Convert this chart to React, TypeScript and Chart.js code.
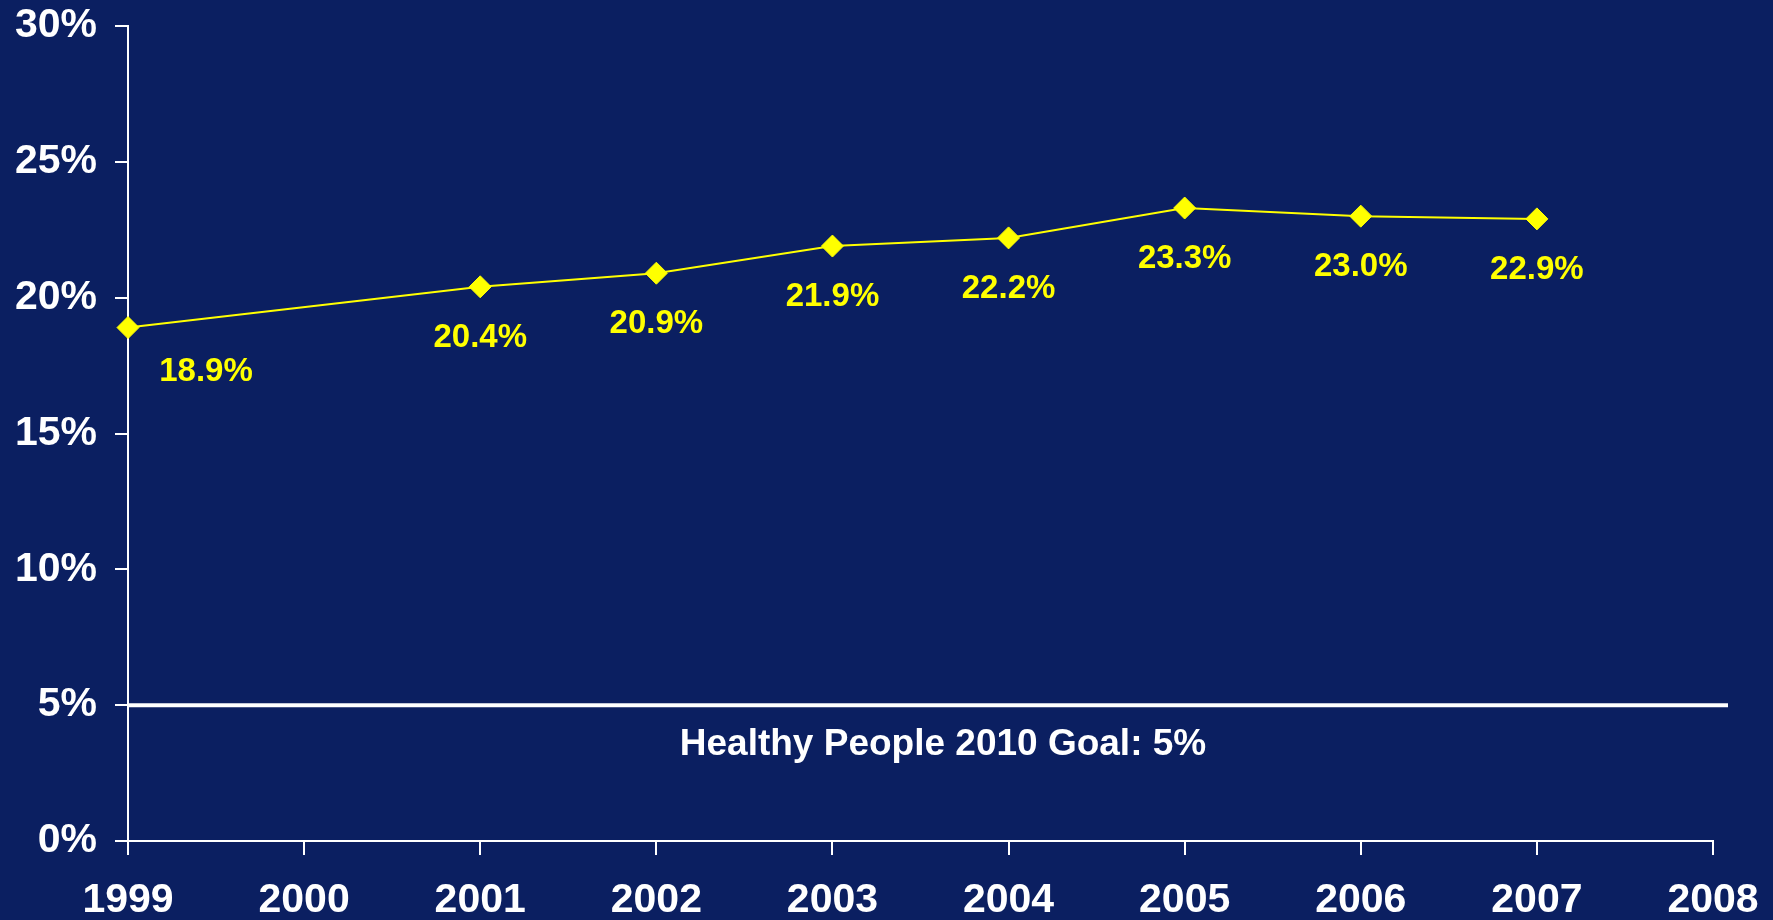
import React, { useEffect, useRef } from "react";
import { Chart, registerables } from "chart.js";

Chart.register(...registerables);

const years = [1999, 2000, 2001, 2002, 2003, 2004, 2005, 2006, 2007, 2008];
const observedYears = [1999, 2001, 2002, 2003, 2004, 2005, 2006, 2007];
const percentValues = [18.9, 20.4, 20.9, 21.9, 22.2, 23.3, 23.0, 22.9];
const yTicks = [0, 5, 10, 15, 20, 25, 30];
const goalValue = 5;
const goalLabel = "Healthy People 2010 Goal: 5%";

const BG = "#0B1F61";
const YELLOW = "#FFFF00";
const FONT = '"Liberation Sans", Arial, Helvetica, sans-serif';

const overlayPlugin = {
  id: "overlay",
  afterDatasetsDraw(chart: any) {
    const { ctx, chartArea, scales } = chart;
    const ys = scales.y;
    // goal line
    const gy = ys.getPixelForValue(goalValue);
    const lineEnd = chartArea.right + 15;
    ctx.save();
    ctx.strokeStyle = "#FFFFFF";
    ctx.lineWidth = 4;
    ctx.beginPath();
    ctx.moveTo(chartArea.left, gy);
    ctx.lineTo(lineEnd, gy);
    ctx.stroke();
    ctx.fillStyle = "#FFFFFF";
    ctx.font = `bold 37px ${FONT}`;
    ctx.textAlign = "center";
    ctx.textBaseline = "middle";
    ctx.fillText(goalLabel, (chartArea.left + lineEnd) / 2 + 15, gy + 40);

    // data labels
    const meta = chart.getDatasetMeta(0);
    ctx.fillStyle = YELLOW;
    ctx.font = `bold 33px ${FONT}`;
    meta.data.forEach((pt: any, i: number) => {
      const txt = percentValues[i].toFixed(1) + "%";
      let dx = 0;
      let dy = 51;
      if (Math.abs(pt.x - chartArea.left) < 2) {
        dx = 78;
        dy = 44;
      }
      ctx.fillText(txt, pt.x + dx, pt.y + dy);
    });
    ctx.restore();
  },
};

export default function App() {
  const ref = useRef<HTMLCanvasElement>(null);
  useEffect(() => {
    document.body.style.margin = "0";
    document.body.style.background = BG;
    const chart = new Chart(ref.current as HTMLCanvasElement, {
      type: "line",
      data: {
        datasets: [
          {
            data: observedYears.map((y, i) => ({ x: y, y: percentValues[i] })),
            borderColor: YELLOW,
            borderWidth: 2,
            backgroundColor: YELLOW,
            pointBackgroundColor: YELLOW,
            pointBorderColor: YELLOW,
            pointBorderWidth: 1,
            pointStyle: "rectRot",
            pointRadius: 11,
            tension: 0,
            clip: false as any,
          },
        ],
      },
      options: {
        animation: false,
        responsive: false,
        layout: { padding: { top: 26, right: 60, left: 0, bottom: 0 } },
        plugins: { legend: { display: false }, tooltip: { enabled: false } },
        scales: {
          x: {
            type: "linear",
            min: years[0],
            max: years[years.length - 1],
            afterBuildTicks: (s: any) => {
              s.ticks = years.map((v) => ({ value: v }));
            },
            afterFit: (s: any) => {
              s.height = 79;
              s.paddingLeft = 0;
              s.paddingRight = 0;
            },
            ticks: {
              color: "#FFFFFF",
              font: { family: FONT, size: 41, weight: "bold" },
              padding: 21,
              maxRotation: 0,
              autoSkip: false,
              callback: (v: any) => String(v),
            },
            grid: {
              drawOnChartArea: false,
              drawTicks: true,
              tickLength: 14,
              color: "#FFFFFF",
              lineWidth: 2,
            },
            border: { display: true, color: "#FFFFFF", width: 2 },
          },
          y: {
            min: yTicks[0],
            max: yTicks[yTicks.length - 1],
            afterBuildTicks: (s: any) => {
              s.ticks = yTicks.map((v) => ({ value: v }));
            },
            afterFit: (s: any) => {
              s.width = 128;
              s.paddingTop = 0;
              s.paddingBottom = 0;
            },
            ticks: {
              color: "#FFFFFF",
              font: { family: FONT, size: 41, weight: "bold" },
              padding: 18,
              callback: (v: any) => v + "%",
            },
            grid: {
              drawOnChartArea: false,
              drawTicks: true,
              tickLength: 13,
              color: "#FFFFFF",
              lineWidth: 2,
            },
            border: { display: true, color: "#FFFFFF", width: 2 },
          },
        },
      } as any,
      plugins: [overlayPlugin],
    });
    return () => chart.destroy();
  }, []);
  return (
    <div style={{ width: 1773, height: 920, background: BG }}>
      <canvas ref={ref} width={1773} height={920} style={{ display: "block" }} />
    </div>
  );
}
